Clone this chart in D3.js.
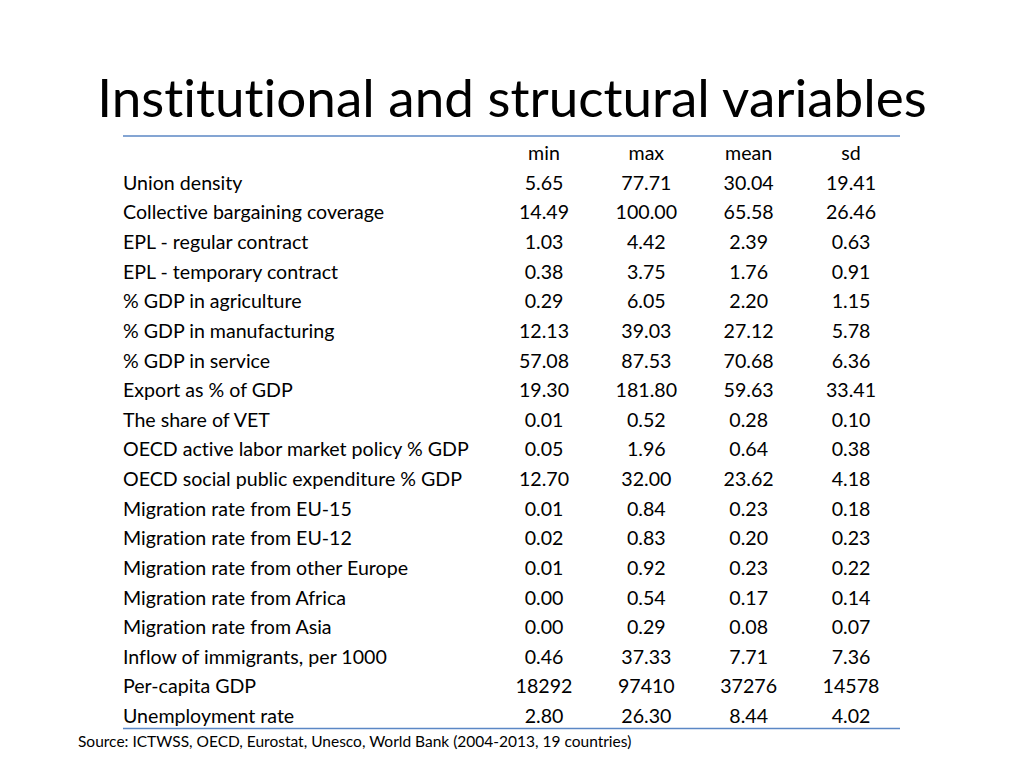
<!DOCTYPE html>
<html>
<head>
<meta charset="utf-8">
<script src="https://cdn.jsdelivr.net/npm/d3@7"></script>
<style>
  body { margin: 0; background: #fff; }
  svg { display: block; font-family: Lato, "Open Sans", sans-serif; font-variant-ligatures: none; }
</style>
</head>
<body>
<div id="chart"></div>
<script>
const width = 1024
const height = 768

const title = "Institutional and structural variables"
const source = "Source: ICTWSS, OECD, Eurostat, Unesco, World Bank (2004-2013, 19 countries)"

const columns = ["min", "max", "mean", "sd"]

const variables = [
  "Union density",
  "Collective bargaining coverage",
  "EPL - regular contract",
  "EPL - temporary contract",
  "% GDP in agriculture",
  "% GDP in manufacturing",
  "% GDP in service",
  "Export as % of GDP",
  "The share of VET",
  "OECD active labor market policy % GDP",
  "OECD social public expenditure % GDP",
  "Migration rate from EU-15",
  "Migration rate from EU-12",
  "Migration rate from other Europe",
  "Migration rate from Africa",
  "Migration rate from Asia",
  "Inflow of immigrants, per 1000",
  "Per-capita GDP",
  "Unemployment rate"
]

const minValues = ["5.65", "14.49", "1.03", "0.38", "0.29", "12.13", "57.08", "19.30", "0.01", "0.05", "12.70", "0.01", "0.02", "0.01", "0.00", "0.00", "0.46", "18292", "2.80"]
const maxValues = ["77.71", "100.00", "4.42", "3.75", "6.05", "39.03", "87.53", "181.80", "0.52", "1.96", "32.00", "0.84", "0.83", "0.92", "0.54", "0.29", "37.33", "97410", "26.30"]
const meanValues = ["30.04", "65.58", "2.39", "1.76", "2.20", "27.12", "70.68", "59.63", "0.28", "0.64", "23.62", "0.23", "0.20", "0.23", "0.17", "0.08", "7.71", "37276", "8.44"]
const sdValues = ["19.41", "26.46", "0.63", "0.91", "1.15", "5.78", "6.36", "33.41", "0.10", "0.38", "4.18", "0.18", "0.23", "0.22", "0.14", "0.07", "7.36", "14578", "4.02"]

const valuesByColumn = { min: minValues, max: maxValues, mean: meanValues, sd: sdValues }

const svg = d3.select("#chart")
  .append("svg")
  .attr("width", width)
  .attr("height", height)

svg.append("text")
  .attr("x", 512)
  .attr("y", 117)
  .attr("text-anchor", "middle")
  .attr("font-size", 53)
  .attr("fill", "#000")
  .text(title)

// rows: header + one per variable
const rowKeys = ["__header"].concat(variables)
const y = d3.scaleBand()
  .domain(rowKeys)
  .range([138.5, 731])
  .padding(0)

const x = d3.scalePoint()
  .domain(columns)
  .range([544, 851])

const left = 123
const right = 900

const table = svg.append("g").attr("font-size", 19.6).attr("fill", "#000")

// rules
table.append("line")
  .attr("x1", left).attr("x2", right)
  .attr("y1", 136).attr("y2", 136)
  .attr("stroke", "#5b87c5").attr("stroke-width", 1.3)
table.append("line")
  .attr("x1", left).attr("x2", right)
  .attr("y1", 728.5).attr("y2", 728.5)
  .attr("stroke", "#5b87c5").attr("stroke-width", 1.3)

// header
table.selectAll("text.head")
  .data(columns)
  .join("text")
  .attr("class", "head")
  .attr("x", (d) => x(d))
  .attr("y", y("__header") + y.bandwidth() / 2)
  .attr("dy", "0.35em")
  .attr("text-anchor", "middle")
  .text((d) => d)

// row labels
table.selectAll("text.label")
  .data(variables)
  .join("text")
  .attr("class", "label")
  .attr("x", left)
  .attr("y", (d) => y(d) + y.bandwidth() / 2)
  .attr("dy", "0.35em")
  .text((d) => d)

// cells
const cells = []
variables.forEach((v, i) => {
  columns.forEach((c) => cells.push({ row: v, col: c, value: valuesByColumn[c][i] }))
})

table.selectAll("text.cell")
  .data(cells)
  .join("text")
  .attr("class", "cell")
  .attr("x", (d) => x(d.col))
  .attr("y", (d) => y(d.row) + y.bandwidth() / 2)
  .attr("dy", "0.35em")
  .attr("text-anchor", "middle")
  .text((d) => d.value)

svg.append("text")
  .attr("x", 78)
  .attr("y", 742)
  .attr("dy", "0.35em")
  .attr("font-size", 15.5)
  .attr("fill", "#000")
  .text(source)
</script>
</body>
</html>
